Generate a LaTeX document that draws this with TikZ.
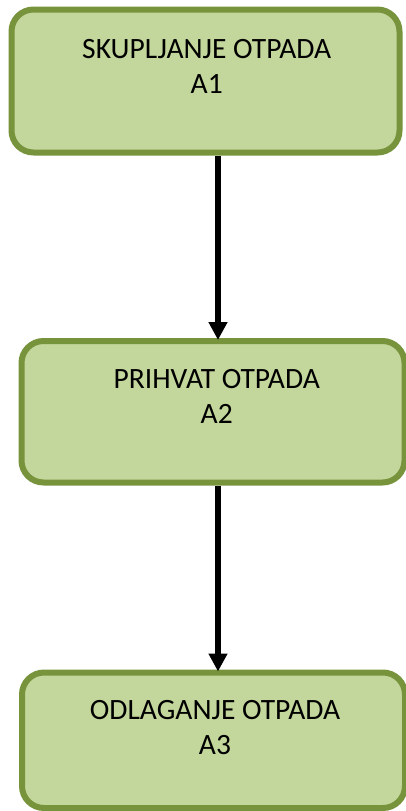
\documentclass[tikz,border=0pt]{standalone}
\usepackage{fontspec}
\setmainfont{Carlito}
\usetikzlibrary{arrows.meta}
\definecolor{boxfill}{HTML}{C3D69B}
\definecolor{boxline}{HTML}{77933C}
\tikzset{
  stage/.style={draw=boxline, fill=boxfill, line width=6pt, rounded corners=22pt,
    rectangle, outer sep=0pt, inner sep=0pt},
  stagetext/.style={font=\fontsize{29.5}{35}\selectfont, align=center, anchor=base,
    inner sep=0pt, text=black},
  flow/.style={line width=6pt, -{Triangle[length=18pt,width=18pt]},
    shorten <=3pt, shorten >=1pt}
}
\begin{document}
\begin{tikzpicture}[x=1pt,y=-1pt]
  \useasboundingbox (0,0) rectangle (405,811);
  \coordinate (ax) at (218,0);
  % process stages
  \node[stage, minimum width=388pt, minimum height=143pt] (a1) at (205.5,81) {};
  \node[stage, minimum width=383pt, minimum height=141.5pt] (a2) at (213,411.75) {};
  \node[stage, minimum width=383pt, minimum height=135.5pt] (a3) at (213.5,740.25) {};
  % labels (anchored on the baseline of the last line)
  \node[stagetext] (t1) at (206.7,93.3) {SKUPLJANJE OTPADA\\A1};
  \node[stagetext] (t2) at (216.7,423.3) {PRIHVAT OTPADA\\A2};
  \node[stagetext] (t3) at (215,754) {ODLAGANJE OTPADA\\A3};
  % connectors
  \draw[flow] (a1.south -| ax) -- (a2.north -| ax);
  \draw[flow] (a2.south -| ax) -- (a3.north -| ax);
\end{tikzpicture}
\end{document}
